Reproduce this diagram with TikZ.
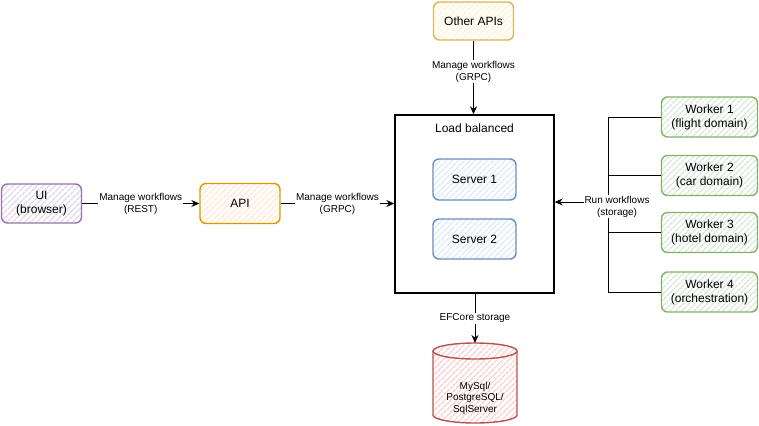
\documentclass[tikz,border=0pt]{standalone}
\usepackage{fontspec}
\setmainfont{Liberation Sans}
\usetikzlibrary{arrows.meta,patterns.meta}
\definecolor{uiS}{HTML}{9673A6}\definecolor{uiF}{HTML}{E1D5E7}
\definecolor{apS}{HTML}{D79B00}\definecolor{apF}{HTML}{FFE6CC}
\definecolor{otS}{HTML}{D6B656}\definecolor{otF}{HTML}{FFF2CC}
\definecolor{svS}{HTML}{6C8EBF}\definecolor{svF}{HTML}{DAE8FC}
\definecolor{wkS}{HTML}{82B366}\definecolor{wkF}{HTML}{D5E8D4}
\definecolor{dbS}{HTML}{B85450}\definecolor{dbF}{HTML}{F8CECC}
\tikzset{
  hatch/.style={pattern={Lines[angle=45,distance=4pt,line width=1.4pt]},pattern color=#1},
  cbox/.style 2 args={draw=#1, hatch=#2, rounded corners=6pt, line width=1.4pt,
     align=center, font=\fontsize{12}{14}\selectfont, inner sep=0pt},
  elabel/.style={fill=white, align=center, font=\fontsize{10}{12}\selectfont, inner sep=1pt},
  conn/.style={line width=0.9pt},
  arr/.style={conn, -{Stealth[length=8pt,width=7pt]}},
}
\begin{document}
\begin{tikzpicture}[x=1pt,y=-1pt]
\useasboundingbox (0,0) rectangle (759,425);
% nodes
\node[cbox={uiS}{uiF}, minimum width=80pt, minimum height=39pt] (ui) at (41.5,203.5) {UI\\(browser)};
\node[cbox={apS}{apF}, minimum width=80pt, minimum height=40pt] (api) at (240,203.5) {API};
\node[cbox={otS}{otF}, minimum width=80pt, minimum height=38pt] (other) at (473.5,21) {Other APIs};
\node[draw, line width=1.4pt, minimum width=159pt, minimum height=178pt, inner sep=0pt] (lb) at (474.5,204) {};
\node[font=\fontsize{12}{14}\selectfont] (lbt) at (474.5,128) {Load balanced};
\node[cbox={svS}{svF}, minimum width=83pt, minimum height=41pt] (s1) at (474.5,179.5) {Server 1};
\node[cbox={svS}{svF}, minimum width=83pt, minimum height=40pt] (s2) at (474.5,239) {Server 2};
\node[cbox={wkS}{wkF}, minimum width=96pt, minimum height=40pt] (w1) at (709.5,117) {Worker 1\\(flight domain)};
\node[cbox={wkS}{wkF}, minimum width=96pt, minimum height=40pt] (w2) at (709.5,175.5) {Worker 2\\(car domain)};
\node[cbox={wkS}{wkF}, minimum width=96pt, minimum height=40pt] (w3) at (709.5,232.5) {Worker 3\\(hotel domain)};
\node[cbox={wkS}{wkF}, minimum width=96pt, minimum height=40pt] (w4) at (709.5,292) {Worker 4\\(orchestration)};
% database cylinder
\path[hatch=dbF] (433,351) -- (433,415) arc[start angle=180,end angle=0,x radius=42,y radius=8]
   -- (517,351) arc[start angle=0,end angle=-180,x radius=42,y radius=8] -- cycle;
\draw[dbS, line width=1.4pt] (433,351) -- (433,415) arc[start angle=180,end angle=0,x radius=42,y radius=8]
   -- (517,351);
\draw[dbS, line width=1.4pt] (475,351) ellipse[x radius=42,y radius=8];
\coordinate (dbtop) at (475,343);
\node[align=center, font=\fontsize{10}{11.5}\selectfont] (db) at (475,398) {MySql/\\PostgreSQL/\\SqlServer};
% connectors
\draw[arr] (ui.east) -- (api.west) node[elabel, midway] (l1) {Manage workflows\\(REST)};
\draw[arr] (api.east) -- (api.east -| lb.west) node[elabel, midway] (l2) {Manage workflows\\(GRPC)};
\draw[arr] (other.south) -- (other.south |- lb.north) node[elabel, pos=0.42] (l3) {Manage workflows\\(GRPC)};
\draw[arr] (dbtop |- lb.south) -- (dbtop) node[elabel, pos=0.5] (l4) {EFCore storage};
\coordinate (bj) at (608,202);
\draw[conn] (w1.west) -| (bj);
\draw[conn] (w2.west) -| (bj);
\draw[conn] (w3.west) -| (bj);
\draw[conn] (w4.west) -| (bj);
\draw[arr] (bj) -- (bj -| lb.east);
\node[elabel] (l5) at (617,206.5) {Run workflows\\(storage)};
\end{tikzpicture}
\end{document}
